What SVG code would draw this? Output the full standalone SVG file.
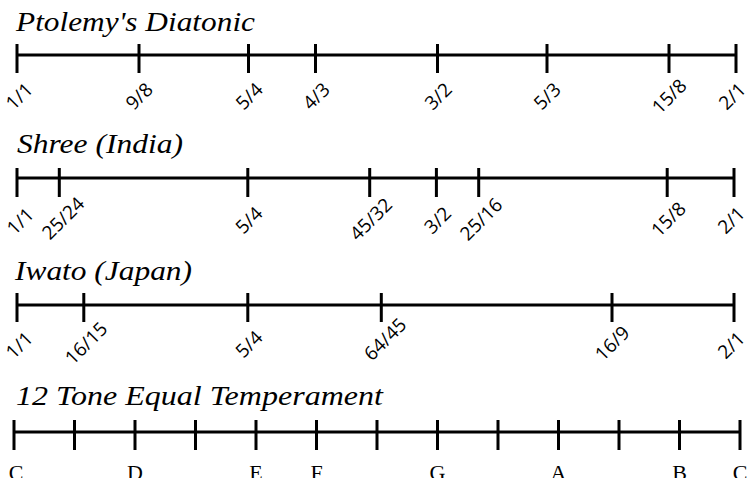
<svg xmlns="http://www.w3.org/2000/svg" width="748" height="478" viewBox="0 0 748 478">
<style>
.title{font-family:"Liberation Serif","Times New Roman",serif;font-style:italic;font-size:27px;fill:#000}
.axis{stroke:#000;stroke-width:3;fill:none}
.tick{stroke:#000;stroke-width:3;fill:none}
.lbl{font-family:"Open Sans","DejaVu Sans",sans-serif;font-size:19px;fill:#000;text-anchor:middle;dominant-baseline:central}
.note{font-family:"Liberation Serif","Times New Roman",serif;font-size:22px;fill:#000;text-anchor:middle}
</style>
<rect width="748" height="478" fill="#fff"/>

<g id="ptolemy">
<text class="title" x="16" y="31" textLength="239" lengthAdjust="spacingAndGlyphs">Ptolemy's Diatonic</text>
<line class="axis" x1="17" y1="55" x2="736" y2="55"/>
<path class="tick" d="M17,44V73M139,44V73M248.5,44V73M315.5,44V73M437.5,44V73M547,44V73M669,44V73M736,44V73"/>
<text class="lbl" transform="translate(19,96) rotate(-45)">1/1</text>
<text class="lbl" transform="translate(139,96) rotate(-45)">9/8</text>
<text class="lbl" transform="translate(249,96) rotate(-45)">5/4</text>
<text class="lbl" transform="translate(316,96) rotate(-45)">4/3</text>
<text class="lbl" transform="translate(438,96) rotate(-45)">3/2</text>
<text class="lbl" transform="translate(547,96) rotate(-45)">5/3</text>
<text class="lbl" transform="translate(669,96) rotate(-45)">15/8</text>
<text class="lbl" transform="translate(732,96) rotate(-45)">2/1</text>
</g>

<g id="shree">
<text class="title" x="17" y="153" textLength="166" lengthAdjust="spacingAndGlyphs">Shree (India)</text>
<line class="axis" x1="17" y1="178" x2="734" y2="178"/>
<path class="tick" d="M17,168V197M59.3,168V197M247.8,168V197M369.7,168V197M436.4,168V197M478.7,168V197M667.2,168V197M734,168V197"/>
<text class="lbl" transform="translate(20,221) rotate(-45)">1/1</text>
<text class="lbl" transform="translate(63,218) rotate(-45)">25/24</text>
<text class="lbl" transform="translate(248.8,220) rotate(-45)">5/4</text>
<text class="lbl" transform="translate(370.7,219) rotate(-45)">45/32</text>
<text class="lbl" transform="translate(437.4,220) rotate(-45)">3/2</text>
<text class="lbl" transform="translate(481,219) rotate(-45)">25/16</text>
<text class="lbl" transform="translate(668.2,219) rotate(-45)">15/8</text>
<text class="lbl" transform="translate(731,220) rotate(-45)">2/1</text>
</g>

<g id="iwato">
<text class="title" x="15" y="280" textLength="177" lengthAdjust="spacingAndGlyphs">Iwato (Japan)</text>
<line class="axis" x1="17" y1="305" x2="734" y2="305"/>
<path class="tick" d="M17,293V322M83.8,293V322M247.8,293V322M381.3,293V322M612,293V322M734,293V322"/>
<text class="lbl" transform="translate(19,345) rotate(-45)">1/1</text>
<text class="lbl" transform="translate(86,343) rotate(-45)">16/15</text>
<text class="lbl" transform="translate(248.8,344) rotate(-45)">5/4</text>
<text class="lbl" transform="translate(385,339) rotate(-45)">64/45</text>
<text class="lbl" transform="translate(612,343) rotate(-45)">16/9</text>
<text class="lbl" transform="translate(731,345) rotate(-45)">2/1</text>
</g>

<g id="equal">
<text class="title" x="16" y="405" textLength="367" lengthAdjust="spacingAndGlyphs">12 Tone Equal Temperament</text>
<line class="axis" x1="14" y1="432" x2="740" y2="432"/>
<path class="tick" d="M14,420V450M74.5,420V450M135,420V450M195.5,420V450M256,420V450M316.5,420V450M377,420V450M437.5,420V450M498,420V450M558.5,420V450M619,420V450M679.5,420V450M740,420V450"/>
<text class="note" x="16" y="480">C</text>
<text class="note" x="135" y="480">D</text>
<text class="note" x="256" y="480">E</text>
<text class="note" x="316.5" y="480">F</text>
<text class="note" x="437.5" y="480">G</text>
<text class="note" x="558.5" y="480">A</text>
<text class="note" x="679.5" y="480">B</text>
<text class="note" x="740" y="480">C</text>
</g>
</svg>
